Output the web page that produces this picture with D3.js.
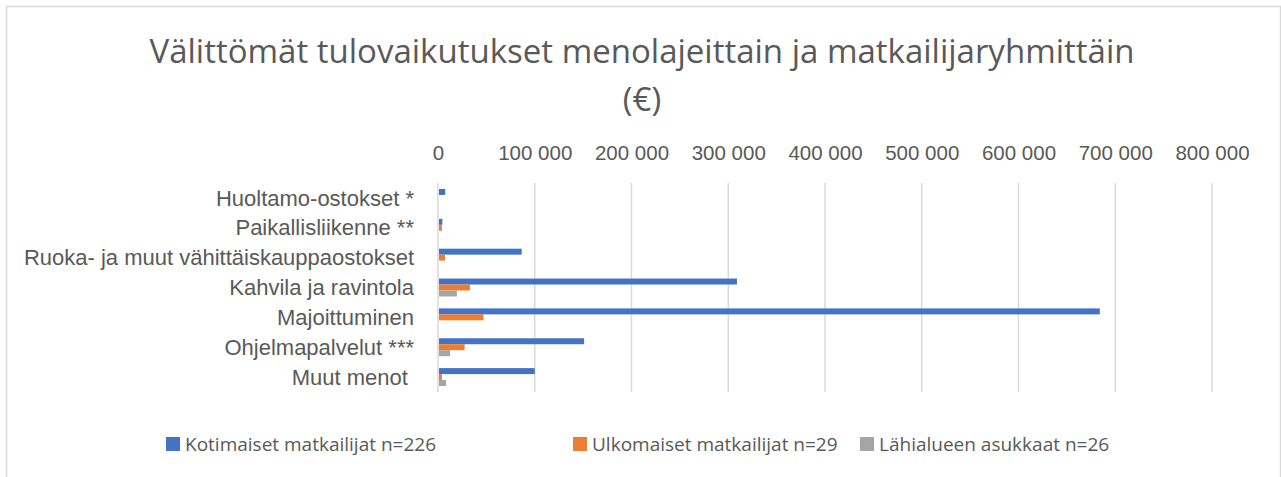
<!DOCTYPE html>
<html>
<head>
<meta charset="utf-8">
<script src="https://cdn.jsdelivr.net/npm/d3@7"></script>
<style>
  body { margin: 0; background: #fff; }
  svg { display: block; font-family: "Open Sans", sans-serif; }
</style>
</head>
<body>
<div id="chart"></div>
<script>
// kategoriat ja sarjat
var categories = ["Huoltamo-ostokset *", "Paikallisliikenne **", "Ruoka- ja muut vähittäiskauppaostokset",
  "Kahvila ja ravintola", "Majoittuminen", "Ohjelmapalvelut ***", "Muut menot "];
var seriesNames = ["Kotimaiset matkailijat n=226", "Ulkomaiset matkailijat n=29", "Lähialueen asukkaat n=26"];
var kotimaiset = [7500, 4500, 86500, 309000, 684000, 151000, 100000];
var ulkomaiset = [1000, 4000, 7200, 33000, 47000, 27500, 4000];
var lahialue = [0, 0, 1000, 19500, 0, 12500, 8300];
var xTicks = [0, 100000, 200000, 300000, 400000, 500000, 600000, 700000, 800000];
var colors = ["#4472C4", "#ED7D31", "#A5A5A5"];

var W = 1281, H = 477;
var svg = d3.select("#chart").append("svg").attr("width", W).attr("height", H);

// kehys
svg.append("rect").attr("x", 6.5).attr("y", 6.5).attr("width", 1274).attr("height", 500)
  .attr("fill", "none").attr("stroke", "#d9d9d9").attr("stroke-width", 1.5);

// otsikko
var title = svg.append("text").attr("text-anchor", "middle").attr("fill", "#595959").style("font-size", "33px");
title.append("tspan").attr("x", 642).attr("y", 63).text("Välittömät tulovaikutukset menolajeittain ja matkailijaryhmittäin");
title.append("tspan").attr("x", 642).attr("y", 111).text("(€)");

var x = d3.scaleLinear().domain([0, 800000]).range([438, 1212]);
var y = d3.scaleBand().domain(categories).range([183, 392]);
var inner = d3.scaleBand().domain(seriesNames).range([0, y.bandwidth() * 0.6]);
var off = (y.bandwidth() - inner.range()[1]) / 2;

// ruudukko
svg.append("g").selectAll("line").data(xTicks).enter().append("line")
  .attr("x1", d => x(d)).attr("x2", d => x(d)).attr("y1", 183).attr("y2", 392)
  .attr("stroke", "#d9d9d9").attr("stroke-width", 1.5);

// x-akseli ylhäällä
var fmt = d => d3.format(",")(d).replace(/,/g, " ");
var xAxis = svg.append("g").attr("transform", "translate(0,138)")
  .call(d3.axisTop(x).tickValues(xTicks).tickFormat(fmt).tickSize(0));
xAxis.select(".domain").remove();
xAxis.selectAll("text").attr("fill", "#595959").attr("y", 22).style("font-size", "20.5px").attr("dy", 0);

// y-akseli
var yAxis = svg.append("g").attr("transform", "translate(414,0)")
  .call(d3.axisLeft(y).tickSize(0).tickPadding(0));
yAxis.select(".domain").remove();
yAxis.selectAll("text").attr("fill", "#595959").style("font-size", "22px")
  .style("white-space", "pre").attr("dy", "0.35em");

// palkit
var rows = categories.map((c, i) => ({ cat: c, vals: [kotimaiset[i], ulkomaiset[i], lahialue[i]] }));
var groups = svg.append("g").selectAll("g").data(rows).enter().append("g")
  .attr("transform", d => "translate(0," + (y(d.cat) + off) + ")");
groups.selectAll("rect").data(d => d.vals.map((v, j) => ({ v: v, s: seriesNames[j], j: j })))
  .enter().append("rect")
  .attr("x", x(0) + 1)
  .attr("y", d => inner(d.s))
  .attr("width", d => Math.max(0, x(d.v) - x(0) - 1))
  .attr("height", inner.bandwidth())
  .attr("fill", d => colors[d.j]);

// selite
var legendX = [166, 573, 860];
var legend = svg.append("g").selectAll("g").data(seriesNames).enter().append("g")
  .attr("transform", (d, i) => "translate(" + legendX[i] + ",437)");
legend.append("rect").attr("width", 14).attr("height", 14).attr("fill", (d, i) => colors[i]);
legend.append("text").attr("x", 19).attr("y", 14).attr("fill", "#595959")
  .style("font-size", "19px").text(d => d);
</script>
</body>
</html>
